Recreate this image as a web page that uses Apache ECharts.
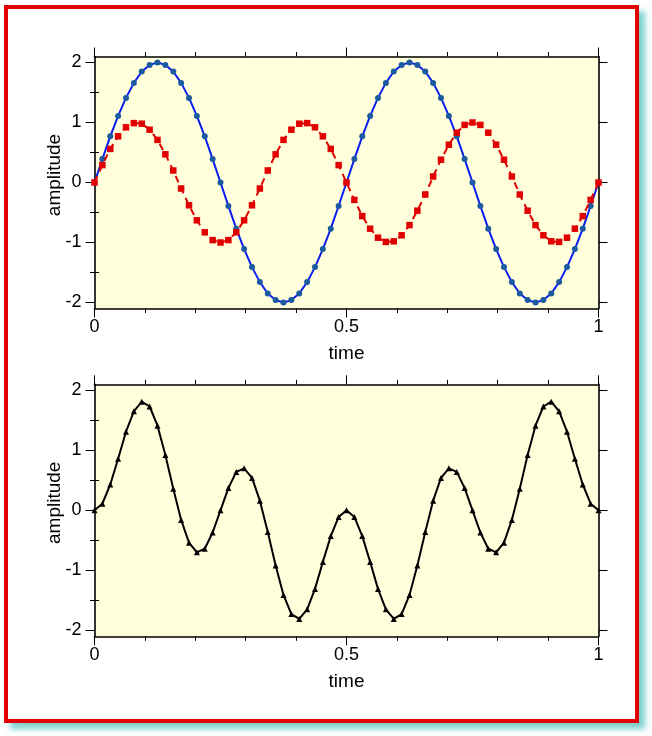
<!DOCTYPE html>
<html>
<head>
<meta charset="utf-8">
<script src="https://cdn.jsdelivr.net/npm/echarts@6/dist/echarts.min.js"></script>
<style>
  html, body { margin: 0; padding: 0; background: #ffffff; width: 652px; height: 736px; overflow: hidden; }
  #frame { position: absolute; left: 4px; top: 5px; width: 635px; height: 718px; box-sizing: border-box;
           border: 4px solid #e20000; background: #ffffff; box-shadow: 6px 6px 6px rgba(70,190,190,0.7); }
  #chart { position: absolute; left: 0; top: 0; width: 652px; height: 736px; }
</style>
</head>
<body>
<div id="frame"></div>
<div id="chart"></div>
<script>
// time samples (i/64)
const times = [0, 0.0156, 0.0313, 0.0469, 0.0625, 0.0781, 0.0938, 0.1094, 0.125, 0.1406, 0.1563, 0.1719, 0.1875, 0.2031, 0.2188, 0.2344,
  0.25, 0.2656, 0.2813, 0.2969, 0.3125, 0.3281, 0.3438, 0.3594, 0.375, 0.3906, 0.4063, 0.4219, 0.4375, 0.4531, 0.4688, 0.4844,
  0.5, 0.5156, 0.5313, 0.5469, 0.5625, 0.5781, 0.5938, 0.6094, 0.625, 0.6406, 0.6563, 0.6719, 0.6875, 0.7031, 0.7188, 0.7344,
  0.75, 0.7656, 0.7813, 0.7969, 0.8125, 0.8281, 0.8438, 0.8594, 0.875, 0.8906, 0.9063, 0.9219, 0.9375, 0.9531, 0.9688, 0.9844, 1];

// top panel, blue curve
const blueWave = [0, 0.39, 0.77, 1.11, 1.41, 1.66, 1.85, 1.96, 2.00, 1.96, 1.85, 1.66, 1.41, 1.11, 0.77, 0.39, 0,
  -0.39, -0.77, -1.11, -1.41, -1.66, -1.85, -1.96, -2.00, -1.96, -1.85, -1.66, -1.41, -1.11, -0.77, -0.39, 0,
  0.39, 0.77, 1.11, 1.41, 1.66, 1.85, 1.96, 2.00, 1.96, 1.85, 1.66, 1.41, 1.11, 0.77, 0.39, 0,
  -0.39, -0.77, -1.11, -1.41, -1.66, -1.85, -1.96, -2.00, -1.96, -1.85, -1.66, -1.41, -1.11, -0.77, -0.39, 0];

// top panel, red dashed curve
const redWave = [0, 0.29, 0.56, 0.77, 0.92, 0.99, 0.98, 0.88, 0.71, 0.47, 0.20,
  -0.10, -0.38, -0.63, -0.83, -0.96, -1.00, -0.96, -0.83, -0.63, -0.38, -0.10,
  0.20, 0.47, 0.71, 0.88, 0.98, 0.99, 0.92, 0.77, 0.56, 0.29, 0,
  -0.29, -0.56, -0.77, -0.92, -0.99, -0.98, -0.88, -0.71, -0.47, -0.20,
  0.10, 0.38, 0.63, 0.83, 0.96, 1.00, 0.96, 0.83, 0.63, 0.38, 0.10,
  -0.20, -0.47, -0.71, -0.88, -0.98, -0.99, -0.92, -0.77, -0.56, -0.29, 0];

// bottom panel, black curve
const blackWave = [0, 0.11, 0.43, 0.86, 1.31, 1.65, 1.81, 1.73, 1.41, 0.92, 0.36, -0.16, -0.54, -0.70, -0.64, -0.37, 0,
  0.37, 0.64, 0.70, 0.54, 0.16, -0.36, -0.92, -1.41, -1.73, -1.81, -1.65, -1.31, -0.86, -0.43, -0.11, 0,
  -0.11, -0.43, -0.86, -1.31, -1.65, -1.81, -1.73, -1.41, -0.92, -0.36, 0.16, 0.54, 0.70, 0.64, 0.37, 0,
  -0.37, -0.64, -0.70, -0.54, -0.16, 0.36, 0.92, 1.41, 1.73, 1.81, 1.65, 1.31, 0.86, 0.43, 0.11, 0];

const xTicks = [0, 0.5, 1];
const yMajorTicks = [-2, -1, 0, 1, 2];
const yMinorTicks = [-1.5, -0.5, 0.5, 1.5];

const FONT = 'Liberation Sans, Arial, Helvetica, sans-serif';
const pairs = arr => arr.map((v, i) => [times[i], v]);

function xAxes(gridIndex) {
  const base = {
    gridIndex, type: 'value', min: 0, max: 1, interval: 0.5,
    axisLine: { show: true, onZero: false, lineStyle: { color: '#000', width: 1.6 } },
    axisTick: { show: true, inside: false, length: 9, lineStyle: { color: '#000', width: 1 } },
    minorTick: { show: true, splitNumber: 5, length: 4.5, lineStyle: { color: '#000', width: 1 } },
    splitLine: { show: false }, minorSplitLine: { show: false }
  };
  return [
    Object.assign({}, base, {
      position: 'bottom',
      axisLabel: { show: true, fontSize: 18, color: '#000', fontFamily: FONT, margin: 10,
        formatter: v => (xTicks.indexOf(v) >= 0 ? String(v) : '') },
      name: 'time', nameLocation: 'middle', nameGap: 36, nameMoveOverlap: false,
      nameTextStyle: { fontSize: 19, color: '#000', fontFamily: FONT }
    }),
    Object.assign({}, base, { position: 'top', axisLabel: { show: false } })
  ];
}

function yAxes(gridIndex) {
  const base = {
    gridIndex, type: 'value', min: -2.1, max: 2.1,
    splitLine: { show: false }, minorSplitLine: { show: false }
  };
  const major = (pos, withLabel) => Object.assign({}, base, {
    position: pos,
    axisLine: { show: true, onZero: false, lineStyle: { color: '#000', width: 1.6 } },
    axisTick: { show: true, inside: false, length: 9, customValues: yMajorTicks, lineStyle: { color: '#000', width: 1 } },
    axisLabel: withLabel
      ? { show: true, customValues: yMajorTicks, fontSize: 18, color: '#000', fontFamily: FONT, margin: 13 }
      : { show: false },
    name: withLabel ? 'amplitude' : '', nameLocation: 'middle', nameGap: 30, nameMoveOverlap: false,
    nameTextStyle: { fontSize: 19, color: '#000', fontFamily: FONT, padding: [0, 0, 0, 15] }
  });
  const minor = pos => Object.assign({}, base, {
    position: pos,
    axisLine: { show: false },
    axisTick: { show: true, inside: false, length: 4.5, customValues: yMinorTicks, lineStyle: { color: '#000', width: 1 } },
    axisLabel: { show: false }
  });
  return [major('left', true), minor('left'), major('right', false), minor('right')];
}

const chart = echarts.init(document.getElementById('chart'), null, { renderer: 'canvas' });
chart.setOption({
  animation: false,
  backgroundColor: 'transparent',
  grid: [
    { left: 94.5, top: 56.5, width: 504, height: 252, show: true, backgroundColor: '#ffffdc', borderWidth: 0 },
    { left: 94.5, top: 384.3, width: 504, height: 252, show: true, backgroundColor: '#ffffdc', borderWidth: 0 }
  ],
  xAxis: [].concat(xAxes(0), xAxes(1)),
  yAxis: [].concat(yAxes(0), yAxes(1)),
  series: [
    {
      type: 'line', xAxisIndex: 0, yAxisIndex: 0, data: pairs(blueWave),
      symbol: 'circle', symbolSize: 6, showSymbol: true,
      lineStyle: { color: '#0a1ef0', width: 2 },
      itemStyle: { color: '#1c5aa0', borderWidth: 0 }, z: 3
    },
    {
      type: 'line', xAxisIndex: 0, yAxisIndex: 0, data: pairs(redWave),
      symbol: 'rect', symbolSize: 6.5, showSymbol: true,
      lineStyle: { color: '#e00000', width: 2, type: [7, 5] },
      itemStyle: { color: '#e00000', borderWidth: 0 }, z: 4
    },
    {
      type: 'line', xAxisIndex: 2, yAxisIndex: 4, data: pairs(blackWave),
      symbol: 'triangle', symbolSize: 6, showSymbol: true,
      lineStyle: { color: '#000000', width: 2 },
      itemStyle: { color: '#000000', borderWidth: 0 }, z: 3
    }
  ]
});
</script>
</body>
</html>
